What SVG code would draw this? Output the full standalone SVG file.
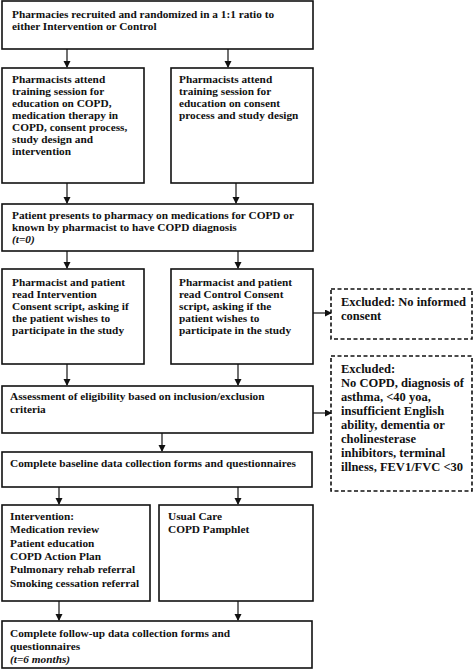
<svg xmlns="http://www.w3.org/2000/svg" width="473" height="670" viewBox="0 0 473 670">
<defs>
<marker id="ah" markerWidth="8" markerHeight="8" refX="6" refY="3.5" orient="auto" markerUnits="userSpaceOnUse">
<path d="M0,0 L7,3.5 L0,7 z" fill="#111"/>
</marker>
<style>
rect.b{fill:#fff;stroke:#111;stroke-width:1.6}
rect.d{fill:#fff;stroke:#111;stroke-width:1.6;stroke-dasharray:4,2.5}
text{font-family:"Liberation Serif","Times New Roman",serif;font-weight:bold;font-size:11.3px;fill:#111}
text.x{font-size:12.5px}
.i{font-style:italic}
#connectors line{stroke:#111;stroke-width:1.2;marker-end:url(#ah)}
</style>
</defs>
<rect width="473" height="670" fill="#fff"/>
<g id="connectors">
<line x1="67" y1="49" x2="67" y2="67"/>
<line x1="228" y1="49" x2="228" y2="67"/>
<line x1="67" y1="183" x2="67" y2="203"/>
<line x1="236" y1="183" x2="236" y2="203"/>
<line x1="67" y1="251" x2="67" y2="268"/>
<line x1="238" y1="251" x2="238" y2="268"/>
<line x1="313" y1="313" x2="331" y2="313"/>
<line x1="67" y1="364" x2="67" y2="385"/>
<line x1="238" y1="364" x2="238" y2="385"/>
<line x1="313" y1="413" x2="331" y2="413"/>
<line x1="162" y1="433" x2="162" y2="451"/>
<line x1="59" y1="487" x2="59" y2="504"/>
<line x1="238" y1="487" x2="238" y2="504"/>
<line x1="59" y1="601" x2="59" y2="620"/>
<line x1="238" y1="601" x2="238" y2="620"/>
</g>
<g id="n1"><rect class="b" x="2" y="1" width="311" height="48"/>
<text x="12" y="18">Pharmacies recruited and randomized in a 1:1 ratio to</text>
<text x="12" y="30">either Intervention or Control</text></g>
<g id="n2"><rect class="b" x="2" y="68" width="142" height="115"/>
<text x="12" y="83">Pharmacists attend</text>
<text x="12" y="95">training session for</text>
<text x="12" y="107">education on COPD,</text>
<text x="12" y="119">medication therapy in</text>
<text x="12" y="131">COPD, consent process,</text>
<text x="12" y="143">study design and</text>
<text x="12" y="155">intervention</text></g>
<g id="n3"><rect class="b" x="171" y="68" width="142" height="115"/>
<text x="179" y="83">Pharmacists attend</text>
<text x="179" y="95">training session for</text>
<text x="179" y="107">education on consent</text>
<text x="179" y="119">process and study design</text></g>
<g id="n4"><rect class="b" x="2" y="204" width="311" height="47"/>
<text x="12" y="219">Patient presents to pharmacy on medications for COPD or</text>
<text x="12" y="231">known by pharmacist to have COPD diagnosis</text>
<text x="12" y="243" class="i">(t=0)</text></g>
<g id="n5"><rect class="b" x="2" y="269" width="142" height="95"/>
<text x="12" y="286">Pharmacist and patient</text>
<text x="12" y="298">read Intervention</text>
<text x="12" y="310">Consent script, asking if</text>
<text x="12" y="322">the patient wishes to</text>
<text x="12" y="334">participate in the study</text></g>
<g id="n6"><rect class="b" x="171" y="269" width="142" height="95"/>
<text x="179" y="286">Pharmacist and patient</text>
<text x="179" y="298">read Control Consent</text>
<text x="179" y="310">script, asking if the</text>
<text x="179" y="322">patient wishes to</text>
<text x="179" y="334">participate in the study</text></g>
<g id="n7"><rect class="d" x="331" y="289" width="141" height="50"/>
<text class="x" x="341" y="306">Excluded: No informed</text>
<text class="x" x="341" y="320">consent</text></g>
<g id="n8"><rect class="d" x="331" y="356" width="141" height="135"/>
<text class="x" x="341" y="373">Excluded:</text>
<text class="x" x="341" y="387">No COPD, diagnosis of</text>
<text class="x" x="341" y="401">asthma, &lt;40 yoa,</text>
<text class="x" x="341" y="415">insufficient English</text>
<text class="x" x="341" y="429">ability, dementia or</text>
<text class="x" x="341" y="443">cholinesterase</text>
<text class="x" x="341" y="457">inhibitors, terminal</text>
<text class="x" x="341" y="471">illness, FEV1/FVC &lt;30</text></g>
<g id="n9"><rect class="b" x="2" y="386" width="311" height="47"/>
<text x="10" y="400">Assessment of eligibility based on inclusion/exclusion</text>
<text x="10" y="413">criteria</text></g>
<g id="n10"><rect class="b" x="2" y="452" width="310" height="35"/>
<text x="10" y="467">Complete baseline data collection forms and questionnaires</text></g>
<g id="n11"><rect class="b" x="2" y="505" width="148" height="96"/>
<text x="10" y="520">Intervention:</text>
<text x="10" y="533">Medication review</text>
<text x="10" y="547">Patient education</text>
<text x="10" y="560">COPD Action Plan</text>
<text x="10" y="573">Pulmonary rehab referral</text>
<text x="10" y="587">Smoking cessation referral</text></g>
<g id="n12"><rect class="b" x="159" y="505" width="154" height="96"/>
<text x="168" y="520">Usual Care</text>
<text x="168" y="533">COPD Pamphlet</text></g>
<g id="n13"><rect class="b" x="2" y="621" width="310" height="47"/>
<text x="10" y="637">Complete follow-up data collection forms and</text>
<text x="10" y="650">questionnaires</text>
<text x="10" y="663" class="i">(t=6 months)</text></g>
</svg>
